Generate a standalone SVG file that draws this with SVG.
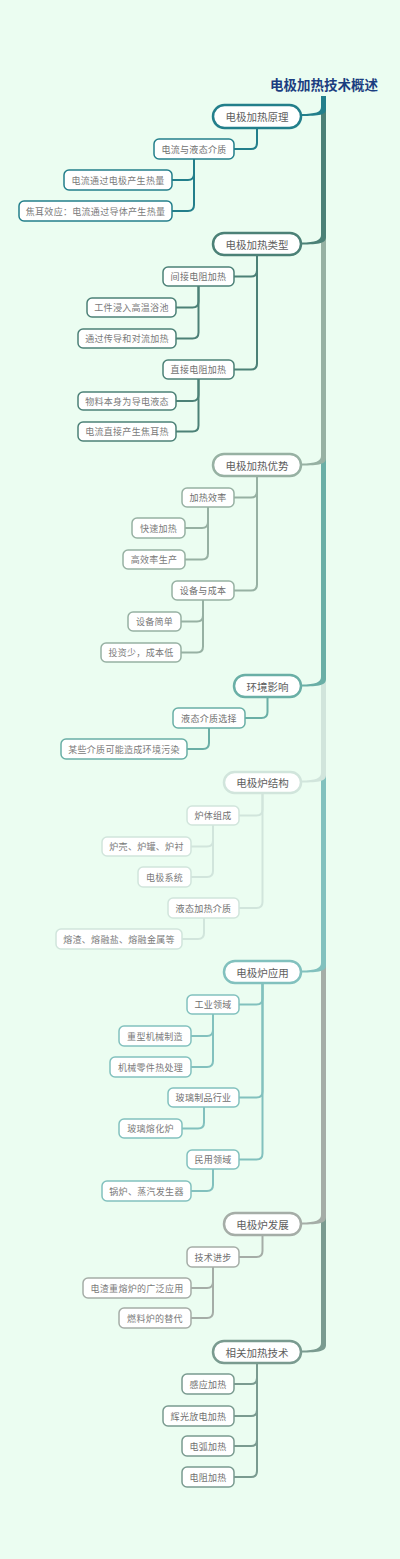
<svg xmlns="http://www.w3.org/2000/svg" width="400" height="1559" viewBox="0 0 400 1559">
<style>
text{font-family:"Noto Sans CJK SC","Noto Sans",sans-serif;text-anchor:middle;dominant-baseline:central}
.title{font-size:13.5px;font-weight:bold;fill:#1b3d80}
.m rect{fill:#fff;stroke-width:2.5}
.m text{font-size:10.5px;fill:#5e5e5e}
.s rect{fill:#fff;stroke-width:1.5}
.s text{font-size:9px;fill:#707070;letter-spacing:0.3px}
.g rect{fill:#fff;stroke-width:1.5}
.g text{font-size:9px;fill:#7a7a7a;letter-spacing:0.3px}
.c path{fill:none;stroke-width:2}
.b1{stroke:#237f8b}.b2{stroke:#4c8177}.b3{stroke:#97b1a3}.b4{stroke:#6aafa6}
.b5{stroke:#d1e5dc}.b6{stroke:#82c1be}.b7{stroke:#a5ada7}.b8{stroke:#7a9b90}
.t path{stroke:none}
</style>
<rect width="400" height="1559" fill="#ebfdf1"/>
<text class="title" x="324" y="84">电极加热技术概述</text>
<g id="trunk" class="t">
<path fill="#7a9b90" d="M321,96 H326 V1345 C326,1351 320,1352.5 301,1352.5 V1350.5 C316,1350.5 321,1348 321,1343 Z"/>
<path fill="#a5ada7" d="M321,96 H326 V1217 C326,1223 320,1224.5 301,1224.5 V1222.5 C316,1222.5 321,1220 321,1215 Z"/>
<path fill="#82c1be" d="M321,96 H326 V965 C326,971 320,972.5 301,972.5 V970.5 C316,970.5 321,968 321,963 Z"/>
<path fill="#d1e5dc" d="M321,96 H326 V775 C326,781 320,782.5 301,782.5 V780.5 C316,780.5 321,778 321,773 Z"/>
<path fill="#6aafa6" d="M321,96 H326 V679 C326,685 320,686.5 301,686.5 V684.5 C316,684.5 321,682 321,677 Z"/>
<path fill="#97b1a3" d="M321,96 H326 V458 C326,464 320,465.5 301,465.5 V463.5 C316,463.5 321,461 321,456 Z"/>
<path fill="#4c8177" d="M321,96 H326 V237 C326,243 320,244.5 301,244.5 V242.5 C316,242.5 321,240 321,235 Z"/>
<path fill="#237f8b" d="M321,96 H326 V109 C326,115 320,116 301,116 V114 C316,114 321,112 321,107 Z"/>
</g>
<g id="connectors" class="c">
<path class="b1" d="M257,128 V143 Q257,149 251,149 H234"/>
<path class="b1" d="M194,159 V174 Q194,180 188,180 H172"/>
<path class="b1" d="M194,159 V205 Q194,211 188,211 H172"/>
<path class="b2" d="M257,255 V270.5 Q257,276.5 251,276.5 H234"/>
<path class="b2" d="M257,255 V363.5 Q257,369.5 251,369.5 H234"/>
<path class="b2" d="M198.5,286 V301.5 Q198.5,307.5 192.5,307.5 H176"/>
<path class="b2" d="M198.5,286 V332.5 Q198.5,338.5 192.5,338.5 H176"/>
<path class="b2" d="M198.5,379 V395 Q198.5,401 192.5,401 H176"/>
<path class="b2" d="M198.5,379 V425.5 Q198.5,431.5 192.5,431.5 H176"/>
<path class="b3" d="M257,476 V491.5 Q257,497.5 251,497.5 H234"/>
<path class="b3" d="M257,476 V584.5 Q257,590.5 251,590.5 H234"/>
<path class="b3" d="M208,507 V522 Q208,528 202,528 H185"/>
<path class="b3" d="M208,507 V553.5 Q208,559.5 202,559.5 H185"/>
<path class="b3" d="M203,600 V615.5 Q203,621.5 197,621.5 H181"/>
<path class="b3" d="M203,600 V646.5 Q203,652.5 197,652.5 H181"/>
<path class="b4" d="M267.5,697 V712 Q267.5,718 261.5,718 H245"/>
<path class="b4" d="M209,728 V743 Q209,749 203,749 H187"/>
<path class="b5" d="M262.5,793 V809.5 Q262.5,815.5 256.5,815.5 H239"/>
<path class="b5" d="M262.5,793 V902 Q262.5,908 256.5,908 H239"/>
<path class="b5" d="M213,825 V840.5 Q213,846.5 207,846.5 H191"/>
<path class="b5" d="M213,825 V871 Q213,877 207,877 H191"/>
<path class="b5" d="M204,918 V933 Q204,939 198,939 H182"/>
<path class="b6" d="M262.5,983 V998.5 Q262.5,1004.5 256.5,1004.5 H239"/>
<path class="b6" d="M262.5,983 V1091.5 Q262.5,1097.5 256.5,1097.5 H239"/>
<path class="b6" d="M262.5,983 V1153.5 Q262.5,1159.5 256.5,1159.5 H239"/>
<path class="b6" d="M213,1014 V1030 Q213,1036 207,1036 H191"/>
<path class="b6" d="M213,1014 V1061 Q213,1067 207,1067 H191"/>
<path class="b6" d="M204,1107 V1122.5 Q204,1128.5 198,1128.5 H182"/>
<path class="b6" d="M213,1169 V1185 Q213,1191 207,1191 H191"/>
<path class="b7" d="M262.5,1235 V1251 Q262.5,1257 256.5,1257 H239"/>
<path class="b7" d="M213,1267 V1282 Q213,1288 207,1288 H191"/>
<path class="b7" d="M213,1267 V1312 Q213,1318 207,1318 H191"/>
<path class="b8" d="M257,1363 V1378 Q257,1384 251,1384 H234"/>
<path class="b8" d="M257,1363 V1410 Q257,1416 251,1416 H234"/>
<path class="b8" d="M257,1363 V1440 Q257,1446 251,1446 H234"/>
<path class="b8" d="M257,1363 V1471 Q257,1477 251,1477 H234"/>
</g>
<g id="n1" class="m"><rect class="b1" x="213" y="105" width="88" height="23" rx="11.5"/><text x="257" y="116.5">电极加热原理</text></g>
<g id="n1-1" class="s"><rect class="b1" x="154" y="139" width="80" height="20" rx="5"/><text x="194" y="149">电流与液态介质</text></g>
<g id="n1-1-1" class="g"><rect class="b1" x="64" y="170" width="108" height="20" rx="5"/><text x="118" y="180">电流通过电极产生热量</text></g>
<g id="n1-1-2" class="g"><rect class="b1" x="19" y="201" width="153" height="20" rx="5"/><text x="95.5" y="211">焦耳效应：电流通过导体产生热量</text></g>

<g id="n2" class="m"><rect class="b2" x="213" y="233" width="88" height="22" rx="11"/><text x="257" y="244">电极加热类型</text></g>
<g id="n2-1" class="s"><rect class="b2" x="163" y="267" width="71" height="19" rx="5"/><text x="198.5" y="276.5">间接电阻加热</text></g>
<g id="n2-1-1" class="g"><rect class="b2" x="87" y="298" width="89" height="19" rx="5"/><text x="131.5" y="307.5">工件浸入高温浴池</text></g>
<g id="n2-1-2" class="g"><rect class="b2" x="78" y="329" width="98" height="19" rx="5"/><text x="127" y="338.5">通过传导和对流加热</text></g>
<g id="n2-2" class="s"><rect class="b2" x="163" y="360" width="71" height="19" rx="5"/><text x="198.5" y="369.5">直接电阻加热</text></g>
<g id="n2-2-1" class="g"><rect class="b2" x="78" y="392" width="98" height="18" rx="5"/><text x="127" y="401">物料本身为导电液态</text></g>
<g id="n2-2-2" class="g"><rect class="b2" x="78" y="422" width="98" height="19" rx="5"/><text x="127" y="431.5">电流直接产生焦耳热</text></g>

<g id="n3" class="m"><rect class="b3" x="213" y="454" width="88" height="22" rx="11"/><text x="257" y="465">电极加热优势</text></g>
<g id="n3-1" class="s"><rect class="b3" x="182" y="488" width="52" height="19" rx="5"/><text x="208" y="497.5">加热效率</text></g>
<g id="n3-1-1" class="g"><rect class="b3" x="132" y="518" width="53" height="20" rx="5"/><text x="158.5" y="528">快速加热</text></g>
<g id="n3-1-2" class="g"><rect class="b3" x="123" y="550" width="62" height="19" rx="5"/><text x="154" y="559.5">高效率生产</text></g>
<g id="n3-2" class="s"><rect class="b3" x="172" y="581" width="62" height="19" rx="5"/><text x="203" y="590.5">设备与成本</text></g>
<g id="n3-2-1" class="g"><rect class="b3" x="128" y="612" width="53" height="19" rx="5"/><text x="154.5" y="621.5">设备简单</text></g>
<g id="n3-2-2" class="g"><rect class="b3" x="101" y="643" width="80" height="19" rx="5"/><text x="141" y="652.5">投资少，成本低</text></g>

<g id="n4" class="m"><rect class="b4" x="234" y="675" width="67" height="22" rx="11"/><text x="267.5" y="686">环境影响</text></g>
<g id="n4-1" class="s"><rect class="b4" x="173" y="708" width="72" height="20" rx="5"/><text x="209" y="718">液态介质选择</text></g>
<g id="n4-1-1" class="g"><rect class="b4" x="61" y="739" width="126" height="20" rx="5"/><text x="124" y="749">某些介质可能造成环境污染</text></g>

<g id="n5" class="m"><rect class="b5" x="224" y="772" width="77" height="21" rx="10.5"/><text x="262.5" y="782.5">电极炉结构</text></g>
<g id="n5-1" class="s"><rect class="b5" x="187" y="806" width="52" height="19" rx="5"/><text x="213" y="815.5">炉体组成</text></g>
<g id="n5-1-1" class="g"><rect class="b5" x="102" y="837" width="89" height="19" rx="5"/><text x="146.5" y="846.5">炉壳、炉罐、炉衬</text></g>
<g id="n5-1-2" class="g"><rect class="b5" x="138" y="867" width="53" height="20" rx="5"/><text x="164.5" y="877">电极系统</text></g>
<g id="n5-2" class="s"><rect class="b5" x="168" y="898" width="71" height="20" rx="5"/><text x="203.5" y="908">液态加热介质</text></g>
<g id="n5-2-1" class="g"><rect class="b5" x="56" y="929" width="126" height="20" rx="5"/><text x="119" y="939">熔渣、熔融盐、熔融金属等</text></g>

<g id="n6" class="m"><rect class="b6" x="224" y="961" width="77" height="22" rx="11"/><text x="262.5" y="972">电极炉应用</text></g>
<g id="n6-1" class="s"><rect class="b6" x="187" y="995" width="52" height="19" rx="5"/><text x="213" y="1004.5">工业领域</text></g>
<g id="n6-1-1" class="g"><rect class="b6" x="119" y="1026" width="72" height="20" rx="5"/><text x="155" y="1036">重型机械制造</text></g>
<g id="n6-1-2" class="g"><rect class="b6" x="110" y="1057" width="81" height="20" rx="5"/><text x="150.5" y="1067">机械零件热处理</text></g>
<g id="n6-2" class="s"><rect class="b6" x="168" y="1088" width="71" height="19" rx="5"/><text x="203.5" y="1097.5">玻璃制品行业</text></g>
<g id="n6-2-1" class="g"><rect class="b6" x="119" y="1119" width="63" height="19" rx="5"/><text x="150.5" y="1128.5">玻璃熔化炉</text></g>
<g id="n6-3" class="s"><rect class="b6" x="187" y="1150" width="52" height="19" rx="5"/><text x="213" y="1159.5">民用领域</text></g>
<g id="n6-3-1" class="g"><rect class="b6" x="102" y="1181" width="89" height="20" rx="5"/><text x="146.5" y="1191">锅炉、蒸汽发生器</text></g>

<g id="n7" class="m"><rect class="b7" x="224" y="1213" width="77" height="22" rx="11"/><text x="262.5" y="1224">电极炉发展</text></g>
<g id="n7-1" class="s"><rect class="b7" x="187" y="1247" width="52" height="20" rx="5"/><text x="213" y="1257">技术进步</text></g>
<g id="n7-1-1" class="g"><rect class="b7" x="83" y="1278" width="108" height="20" rx="5"/><text x="137" y="1288">电渣重熔炉的广泛应用</text></g>
<g id="n7-1-2" class="g"><rect class="b7" x="119" y="1308" width="72" height="20" rx="5"/><text x="155" y="1318">燃料炉的替代</text></g>

<g id="n8" class="m"><rect class="b8" x="213" y="1341" width="88" height="22" rx="11"/><text x="257" y="1352">相关加热技术</text></g>
<g id="n8-1" class="s"><rect class="b8" x="182" y="1374" width="52" height="20" rx="5"/><text x="208" y="1384">感应加热</text></g>
<g id="n8-2" class="s"><rect class="b8" x="163" y="1406" width="71" height="20" rx="5"/><text x="198.5" y="1416">辉光放电加热</text></g>
<g id="n8-3" class="s"><rect class="b8" x="182" y="1436" width="52" height="20" rx="5"/><text x="208" y="1446">电弧加热</text></g>
<g id="n8-4" class="s"><rect class="b8" x="182" y="1467" width="52" height="20" rx="5"/><text x="208" y="1477">电阻加热</text></g>
</svg>
